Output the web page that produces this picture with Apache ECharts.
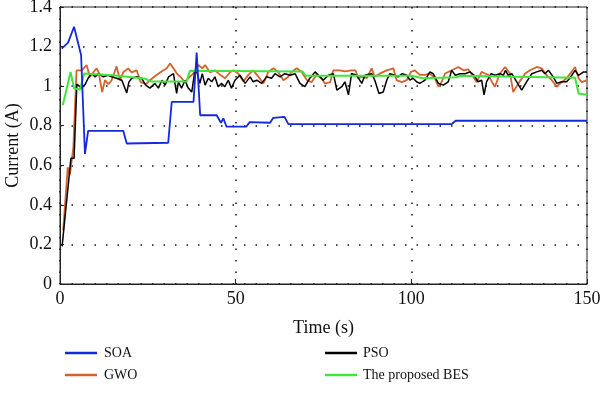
<!DOCTYPE html>
<html>
<head>
<meta charset="utf-8">
<script src="https://cdn.jsdelivr.net/npm/echarts@6/dist/echarts.min.js"></script>
<style>html,body{margin:0;padding:0;background:#fff;}#c{width:600px;height:395px;}</style>
</head>
<body>
<div id="c"></div>
<script>
var xTicks = [0, 50, 100, 150];
var yTicks = [0, 0.2, 0.4, 0.6, 0.8, 1, 1.2, 1.4];

var soaT = [0.5, 2.3, 4, 6, 7.1, 8, 18, 19, 30.8, 31.8, 38, 38.9, 39.9, 44.6, 45.8, 46.5, 47.4, 53, 54, 59.8, 60.7, 63.9, 65, 111.5, 112.6, 150];
var soaV = [1.19, 1.22, 1.30, 1.157, 0.657, 0.774, 0.774, 0.71, 0.714, 0.92, 0.92, 1.17, 0.853, 0.853, 0.815, 0.837, 0.795, 0.795, 0.818, 0.815, 0.84, 0.845, 0.808, 0.808, 0.825, 0.825];

var besT = [0.8, 3, 4, 5.7, 6.9, 15, 24, 26, 36, 37, 69, 70, 100, 103.4, 108, 112.9, 113.9, 146.6, 147.6, 150];
var besV = [0.904, 1.072, 0.988, 0.983, 1.064, 1.055, 1.039, 1.023, 1.023, 1.078, 1.074, 1.052, 1.053, 1.040, 1.043, 1.045, 1.052, 1.043, 0.963, 0.957];

var gwoT = [0.9, 2.2, 2.8, 3.8, 4.7, 6.2, 7.6, 8.5, 9.5, 10.4, 11, 12, 12.8, 13.8, 14.7, 16.1, 17.1, 18, 19.4, 20.4, 21.8, 23, 24.5, 25.6, 27, 29, 30.4, 31.3, 32.3, 33.2, 34.6, 35.6, 36.5, 38, 39.4, 40.5, 41.3, 42.7, 44.1, 45.6, 47, 48.4, 49.4, 50.8, 52.2, 53.6, 55, 56.5, 57.9, 59.3, 60.7, 62.1, 63.6, 65, 65.9, 67.4, 68.8, 70.3, 71.6, 73, 74.4, 75.4, 76.9, 77.8, 79.7, 81.1, 83, 84.1, 84.9, 85.9, 87.3, 88.7, 89.6, 91, 93, 94.9, 95.8, 97.3, 98.7, 99.9, 101, 102.4, 103.9, 105.3, 106.7, 107.7, 108.6, 109.6, 111.5, 113.4, 114.8, 116.2, 117.6, 118.6, 120, 121, 121.9, 123, 123.8, 125.2, 126.7, 128.1, 129, 130.5, 132.4, 133.8, 135.7, 137.1, 138.5, 140, 141.4, 142.8, 144.2, 145.6, 146.6, 147.6, 148.5, 150];
var gwoV = [0.27, 0.59, 0.55, 0.69, 1.08, 1.08, 1.106, 1.047, 1.07, 1.09, 1.07, 0.97, 1.03, 1.01, 1.03, 1.10, 1.03, 1.07, 1.09, 1.07, 1.08, 1.02, 1.01, 1.03, 1.05, 1.075, 1.09, 1.115, 1.09, 1.065, 1.04, 1.02, 1.04, 1.065, 1.107, 1.09, 1.107, 1.07, 1.08, 1.057, 1.04, 1.07, 1.08, 1.063, 1.023, 1.057, 1.08, 1.047, 1.014, 1.072, 1.09, 1.072, 1.03, 1.047, 1.072, 1.09, 1.072, 1.03, 1.02, 1.057, 1.04, 1.013, 1.02, 1.08, 1.08, 1.075, 1.08, 1.08, 1.04, 1.047, 1.04, 1.09, 1.047, 1.063, 1.08, 1.09, 1.03, 1.02, 1.03, 1.072, 1.08, 1.057, 1.057, 1.064, 1.04, 0.997, 1.02, 1.064, 1.08, 1.097, 1.08, 1.085, 1.047, 1.02, 1.072, 1.064, 1.057, 1.02, 0.997, 1.064, 1.097, 1.064, 0.97, 1.014, 1.064, 1.08, 1.097, 1.09, 1.055, 1.03, 0.997, 1.02, 1.04, 1.072, 1.097, 1.04, 1.02, 1.03];

var psoT = [0.6, 3.1, 4.0, 4.8, 6.2, 7.2, 8, 9, 10, 11, 12.3, 13.7, 14.7, 16.1, 17.6, 19, 19.6, 20.4, 21.8, 23.2, 24.4, 25.6, 27, 28, 29, 29.9, 30.9, 32.3, 32.8, 33.2, 33.7, 34.6, 35.6, 36.5, 37.5, 38.4, 39.1, 39.8, 40.5, 41.3, 42.2, 43.2, 44.1, 45, 46, 46.9, 47.9, 48.8, 49.8, 51.2, 52.7, 54.1, 55, 56, 57.4, 58.8, 60.2, 61.2, 62.6, 64, 65.5, 66.9, 68.3, 69.7, 71.1, 72.6, 74, 74.9, 76.4, 77.8, 78.8, 80.2, 81.1, 82.1, 83, 84.4, 85.9, 86.8, 88.7, 89.6, 90.8, 92, 93, 93.9, 95.3, 96.2, 97.4, 98.7, 99.6, 100.5, 101.5, 102.4, 103.9, 105.3, 106.2, 107.7, 109.1, 110.5, 111.5, 112.5, 113.9, 115.3, 116.7, 117.9, 119, 120, 120.7, 121.4, 122.7, 123.8, 125.2, 126.2, 126.8, 127.6, 128.6, 130, 131.4, 132.8, 134.3, 135.7, 137.1, 138, 139, 140.4, 141.4, 142.8, 144.2, 145.1, 146.6, 147.6, 149, 150];
var psoV = [0.19, 0.635, 0.635, 1.01, 0.99, 1.01, 1.04, 1.064, 1.047, 1.064, 1.047, 1.055, 1.047, 1.04, 1.03, 0.966, 1.02, 1.04, 1.047, 1.04, 1.005, 0.99, 1.014, 0.99, 1.03, 1.005, 1.047, 1.063, 1.005, 0.963, 1.022, 0.99, 1.03, 0.99, 0.97, 1.08, 1.063, 1.014, 1.063, 1.005, 1.04, 1.022, 1.047, 0.997, 1.014, 0.997, 1.03, 0.99, 1.03, 1.055, 1.014, 1.047, 1.022, 1.03, 1.014, 1.047, 1.04, 1.063, 1.047, 1.063, 1.055, 1.063, 1.014, 0.997, 1.04, 1.072, 1.047, 1.03, 1.055, 1.063, 0.98, 0.997, 1.022, 0.956, 1.064, 1.055, 1.014, 1.055, 1.063, 1.03, 0.963, 0.97, 1.03, 1.063, 1.055, 1.047, 1.063, 1.055, 1.03, 1.04, 1.022, 1.014, 1.03, 1.072, 1.063, 1.014, 1.005, 1.022, 1.08, 1.055, 1.063, 1.063, 1.072, 1.055, 1.022, 1.03, 0.956, 1.022, 1.063, 1.055, 1.063, 1.055, 1.08, 1.055, 1.063, 1.022, 0.98, 1.022, 1.063, 1.072, 1.08, 1.063, 1.08, 1.047, 1.014, 1.022, 1.022, 1.04, 1.08, 1.055, 1.072, 1.072];

function pairs(t, v) { return t.map(function (x, i) { return [x, v[i]]; }); }

var FONT = 'Liberation Serif';
var chart = echarts.init(document.getElementById('c'), null, {renderer: 'canvas'});
var dotted = {color: '#111', width: 1.5, type: [1.5, 10]};

chart.setOption({
  animation: false,
  backgroundColor: '#fff',
  grid: {left: 60, right: 13, top: 7, bottom: 111, containLabel: false, outerBoundsMode: 'none',
         show: true, borderColor: '#222', borderWidth: 1, backgroundColor: 'transparent'},
  xAxis: {
    type: 'value', min: xTicks[0], max: xTicks[xTicks.length - 1], interval: 50,
    name: 'Time (s)', nameLocation: 'middle', nameGap: 35,
    nameTextStyle: {fontFamily: FONT, fontSize: 18, color: '#111'},
    axisLine: {show: true, lineStyle: {color: '#222', width: 1}},
    axisTick: {show: true, inside: true, length: 5, lineStyle: {color: '#222'}},
    axisLabel: {fontFamily: FONT, fontSize: 18, color: '#111', margin: 6},
    splitLine: {show: true, lineStyle: dotted}
  },
  yAxis: {
    type: 'value', min: yTicks[0], max: yTicks[yTicks.length - 1], interval: 0.2,
    name: 'Current (A)', nameLocation: 'middle', nameGap: 38, nameMoveOverlap: false,
    nameTextStyle: {fontFamily: FONT, fontSize: 18, color: '#111'},
    axisLine: {show: true, lineStyle: {color: '#222', width: 1}},
    axisTick: {show: true, inside: true, length: 4, lineStyle: {color: '#222'}},
    axisLabel: {fontFamily: FONT, fontSize: 18, color: '#111', margin: 8},
    splitLine: {show: true, lineStyle: dotted}
  },
  legend: [
    {data: ['SOA', 'GWO'], orient: 'vertical', left: 60, top: 341, itemWidth: 32, itemHeight: 2.5, itemGap: 8, icon: 'rect',
     textStyle: {fontFamily: FONT, fontSize: 14, color: '#111', padding: [0, 0, 0, 2]}},
    {data: ['PSO', 'The proposed BES'], orient: 'vertical', left: 320, top: 341, itemWidth: 32, itemHeight: 2.5, itemGap: 8, icon: 'rect',
     textStyle: {fontFamily: FONT, fontSize: 14, color: '#111', padding: [0, 0, 0, 1]}}
  ],
  series: [
    {name: 'GWO', type: 'line', data: pairs(gwoT, gwoV), showSymbol: false, symbol: 'none', z: 2, lineStyle: {color: '#d5622c', width: 1.8}, itemStyle: {color: '#d5622c'}},
    {name: 'PSO', type: 'line', data: pairs(psoT, psoV), showSymbol: false, symbol: 'none', z: 3, lineStyle: {color: '#000', width: 1.5}, itemStyle: {color: '#000'}},
    {name: 'The proposed BES', type: 'line', data: pairs(besT, besV), showSymbol: false, symbol: 'none', z: 4, lineStyle: {color: '#3ee63a', width: 2}, itemStyle: {color: '#3ee63a'}},
    {name: 'SOA', type: 'line', data: pairs(soaT, soaV), showSymbol: false, symbol: 'none', z: 5, lineStyle: {color: '#1428dc', width: 1.8}, itemStyle: {color: '#1428dc'}}
  ]
});
</script>
</body>
</html>
